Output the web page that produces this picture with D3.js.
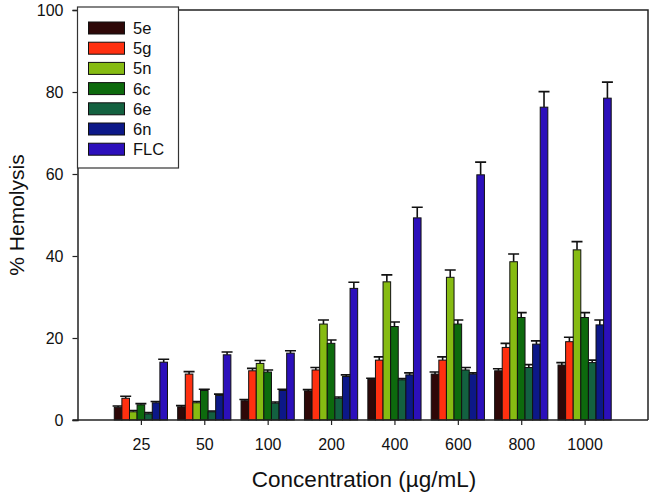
<!DOCTYPE html>
<html>
<head>
<meta charset="utf-8">
<script src="https://cdn.jsdelivr.net/npm/d3@7"></script>
<style>
  html, body { margin: 0; padding: 0; background: #fff; }
  svg { display: block; font-family: "Liberation Sans", Arial, sans-serif; }
</style>
</head>
<body>
<svg id="chart" width="652" height="494"></svg>
<script>
const categories = ["25", "50", "100", "200", "400", "600", "800", "1000"];
const seriesNames = ["5e", "5g", "5n", "6c", "6e", "6n", "FLC"];
const seriesColors = ["#2e0808", "#ff3010", "#86bb12", "#0d6a0d", "#136140", "#0c1888", "#2c10bb"];
const values5e  = [3.1, 3.2, 4.7, 7.1, 9.9, 11.2, 12.0, 13.4];
const values5g  = [5.3, 11.2, 12.0, 12.2, 14.6, 14.6, 17.7, 19.1];
const values5n  = [2.0, 4.2, 13.8, 23.4, 33.7, 34.8, 38.6, 41.5];
const values6c  = [3.7, 7.2, 11.7, 18.7, 22.8, 23.4, 25.0, 25.0];
const values6e  = [1.5, 2.0, 4.1, 5.3, 9.8, 12.2, 12.8, 14.0];
const values6n  = [4.2, 6.0, 7.2, 10.6, 11.0, 11.2, 18.5, 23.2];
const valuesFLC = [14.1, 15.9, 16.3, 32.1, 49.3, 59.8, 76.3, 78.5];
const err5e  = [0.3, 0.3, 0.3, 0.3, 0.3, 0.5, 0.5, 0.6];
const err5g  = [0.5, 0.6, 0.6, 0.6, 0.8, 0.8, 1.0, 1.1];
const err5n  = [0.3, 0.3, 0.7, 1.0, 1.7, 1.8, 1.9, 2.0];
const err6c  = [0.3, 0.3, 0.5, 0.8, 1.1, 1.0, 1.2, 1.2];
const err6e  = [0.3, 0.2, 0.3, 0.3, 0.3, 0.6, 0.7, 0.6];
const err6n  = [0.3, 0.3, 0.3, 0.4, 0.5, 0.3, 0.8, 1.2];
const errFLC = [0.7, 0.7, 0.6, 1.5, 2.6, 3.1, 3.8, 3.9];
const yTicks = [0, 20, 40, 60, 80, 100];

const allValues = [values5e, values5g, values5n, values6c, values6e, values6n, valuesFLC];
const allErrors = [err5e, err5g, err5n, err6c, err6e, err6n, errFLC];

const svg = d3.select("#chart");
const mLeft = 77.5, mRight = 648, mTop = 10, mBottom = 420;
const FONT = '"Liberation Sans", Arial, sans-serif';

const x = d3.scalePoint().domain(categories).range([mLeft, mRight]).padding(1);
const groupHalf = 26.6;
const xInner = d3.scaleBand().domain(seriesNames).range([-groupHalf, groupHalf]).padding(0);
const y = d3.scaleLinear().domain([0, 100]).range([mBottom, mTop]);

// frame (top and right)
svg.append("path")
  .attr("d", `M${mLeft},${mTop}H${mRight}V${mBottom}`)
  .attr("fill", "none").attr("stroke", "#222").attr("stroke-width", 1.5);

const data = [];
seriesNames.forEach((s, si) => {
  categories.forEach((c, ci) => {
    data.push({ s, si, c, v: allValues[si][ci], e: allErrors[si][ci] });
  });
});

const g = svg.append("g");
// error bars (upper only)
g.selectAll("path.err").data(data).join("path")
  .attr("class", "err")
  .attr("d", d => {
    const cx = x(d.c) + xInner(d.s) + xInner.bandwidth() / 2;
    const y0 = y(d.v), y1 = y(d.v + d.e);
    const hw = 5.5;
    return `M${cx},${y0}V${y1}M${cx - hw},${y1}H${cx + hw}`;
  })
  .attr("stroke", "#111").attr("stroke-width", 1.6).attr("fill", "none");

g.selectAll("rect.bar").data(data).join("rect")
  .attr("class", "bar")
  .attr("x", d => x(d.c) + xInner(d.s))
  .attr("y", d => y(d.v))
  .attr("width", xInner.bandwidth())
  .attr("height", d => y(0) - y(d.v))
  .attr("fill", d => seriesColors[d.si])
  .attr("stroke", "#111").attr("stroke-width", 1);

// axes
const yAxis = d3.axisLeft(y).tickValues(yTicks).tickSize(5).tickPadding(9);
const yg = svg.append("g").attr("transform", `translate(${mLeft},0)`).call(yAxis)
  .attr("font-size", 16).attr("font-family", FONT);
yg.select(".domain").attr("stroke", "#222").attr("stroke-width", 1.5);
yg.selectAll(".tick line").attr("stroke", "#222").attr("stroke-width", 1.2);
yg.selectAll(".tick text").attr("fill", "#111");

const xAxis = d3.axisBottom(x).tickSize(5).tickPadding(14);
const xg = svg.append("g").attr("transform", `translate(0,${mBottom})`).call(xAxis)
  .attr("font-size", 16).attr("font-family", FONT);
xg.select(".domain").attr("d", `M${mLeft - 5},0H${mRight}`).attr("stroke", "#222").attr("stroke-width", 1.5);
xg.selectAll(".tick line").attr("stroke", "#222").attr("stroke-width", 1.2);
xg.selectAll(".tick text").attr("fill", "#111");

// axis titles
svg.append("text")
  .attr("x", 364).attr("y", 487)
  .attr("text-anchor", "middle").attr("font-size", 22.5).attr("fill", "#111")
  .attr("font-family", FONT)
  .text("Concentration (µg/mL)");
svg.append("text")
  .attr("transform", "translate(24,215) rotate(-90)")
  .attr("text-anchor", "middle").attr("font-size", 21).attr("fill", "#111")
  .attr("font-family", FONT)
  .text("% Hemolysis");

// legend
const lg = svg.append("g");
lg.append("rect")
  .attr("x", mLeft).attr("y", 7).attr("width", 101).attr("height", 161)
  .attr("fill", "#fff").attr("stroke", "#333").attr("stroke-width", 1.2);
const items = lg.selectAll("g.item").data(seriesNames).join("g")
  .attr("class", "item")
  .attr("transform", (d, i) => `translate(0,${28 + i * 20.2})`);
items.append("rect")
  .attr("x", 88.5).attr("y", -6).attr("width", 36).attr("height", 12)
  .attr("fill", (d, i) => seriesColors[i]).attr("stroke", "#111").attr("stroke-width", 1);
items.append("text")
  .attr("x", 133).attr("y", 6).attr("font-size", 16.5).attr("fill", "#111")
  .attr("font-family", FONT)
  .text(d => d);
</script>
</body>
</html>
